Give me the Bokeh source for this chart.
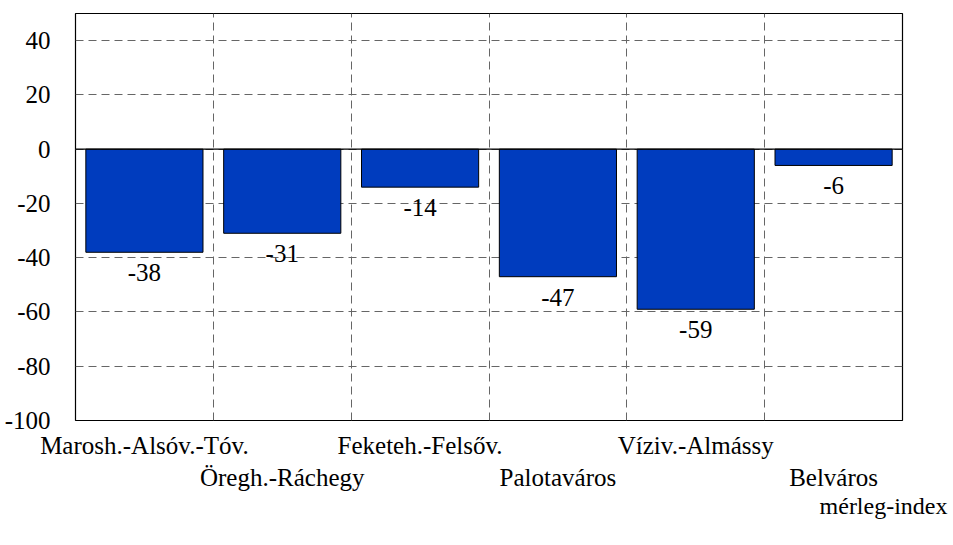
from bokeh.plotting import figure
from bokeh.models import (ColumnDataSource, FixedTicker, LinearAxis, Range1d,
                          Span, LabelSet, Title)
from bokeh.embed import file_html
from bokeh.resources import INLINE

categories = ["Marosh.-Alsóv.-Tóv.", "Öregh.-Ráchegy", "Feketeh.-Felsőv.",
              "Palotaváros", "Víziv.-Almássy", "Belváros"]
values = [-38, -31, -14, -47, -59, -6]
y_ticks = [-100, -80, -60, -40, -20, 0, 20, 40]
y_min, y_max = -100, 50
axis_title = "mérleg-index"

FONT = "Liberation Serif"
FS = "25px"

xs = [i + 0.5 for i in range(len(categories))]
src = ColumnDataSource(dict(x=xs, v=values, lab=[str(v) for v in values]))

p = figure(width=953, height=545, output_backend="svg", toolbar_location=None,
           x_range=Range1d(0, len(categories)), y_range=Range1d(y_min, y_max),
           min_border_left=75, min_border_right=51, min_border_top=13,
           min_border_bottom=125)
p.background_fill_color = "white"
p.border_fill_color = "white"
p.outline_line_color = "black"
p.outline_line_width = 1.2
p.outline_line_alpha = 1

# grids
p.xgrid.ticker = FixedTicker(ticks=list(range(1, len(categories))))
p.ygrid.ticker = FixedTicker(ticks=y_ticks)
for g in (p.xgrid, p.ygrid):
    g.grid_line_color = "#666666"
    g.grid_line_dash = "8 5"
    g.grid_line_width = 1

p.vbar(x="x", top="v", bottom=0, width=0.85, source=src,
       fill_color="#003cbe", line_color="black", line_width=1)

p.add_layout(Span(location=0, dimension="width", line_color="black", line_width=1.2))

# y axis
ya = p.yaxis[0]
ya.ticker = FixedTicker(ticks=y_ticks)
ya.major_label_overrides = {t: str(t) for t in y_ticks}
ya.axis_line_color = None
ya.major_tick_line_color = None
ya.minor_tick_line_color = None
ya.major_label_standoff = 19
ya.major_label_text_font = FONT
ya.major_label_text_font_size = FS
ya.major_label_text_color = "black"

# x axes: alternate rows
odd = [xs[i] for i in range(0, len(xs), 2)]
even = [xs[i] for i in range(1, len(xs), 2)]

def style_x(ax, ticks, standoff):
    ax.ticker = FixedTicker(ticks=ticks)
    ax.major_label_overrides = {x: categories[int(x - 0.5)] for x in ticks}
    ax.axis_line_color = None
    ax.major_tick_line_color = None
    ax.minor_tick_line_color = None
    ax.major_label_standoff = standoff
    ax.major_label_text_font = FONT
    ax.major_label_text_font_size = FS
    ax.major_label_text_color = "black"

style_x(p.xaxis[0], odd, 5)
xa2 = LinearAxis()
style_x(xa2, even, -4)
p.add_layout(xa2, "below")

# value labels
p.add_layout(LabelSet(x="x", y="v", text="lab", source=src, text_align="center",
                      text_baseline="top", y_offset=-12, text_font=FONT,
                      text_font_size=FS, text_color="black"))

# axis title bottom right
p.add_layout(Title(text=axis_title, align="right", offset=-45, standoff=-6,
                   text_font=FONT, text_font_size="24px", text_font_style="normal",
                   text_color="black"), "below")

open("out.html", "w").write(file_html(p, INLINE))
